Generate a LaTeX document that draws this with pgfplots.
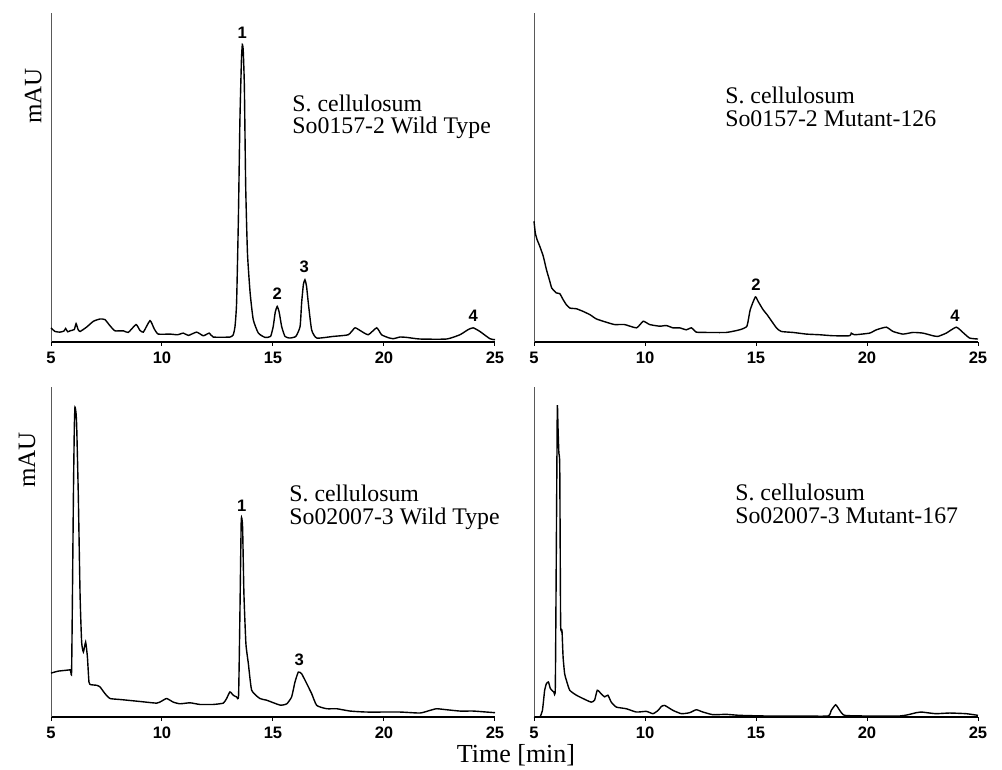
\documentclass[border=0pt]{standalone}
\usepackage{fontspec}
\setmainfont{Liberation Serif}
\setsansfont{Liberation Sans}
\usepackage{pgfplots}
\usepackage{pgfplotstable}
\pgfplotsset{compat=1.18}

% retention time [min] vs. signal (percent of the axis height)
\pgfplotstableread{
t v
5.00 4.3
5.18 3.2
5.40 3.0
5.58 3.3
5.66 4.1
5.75 3.1
5.86 3.4
6.05 3.8
6.13 5.6
6.22 3.8
6.31 3.2
6.60 4.5
6.91 6.3
7.21 7.0
7.43 6.8
7.65 5.0
7.88 3.4
8.26 3.4
8.48 2.9
8.83 5.3
9.00 3.6
9.16 3.0
9.46 6.5
9.65 4.0
9.83 2.4
10.36 2.4
10.70 2.2
10.96 2.7
11.19 2.0
11.56 3.0
11.86 1.9
12.13 2.7
12.31 1.5
13.06 1.5
13.21 2.2
13.29 4.8
13.36 11.9
13.44 37.2
13.51 67.5
13.58 86.0
13.62 90.4
13.66 88.5
13.71 77.7
13.77 47.3
13.85 27.0
13.97 14.9
14.11 6.8
14.34 2.7
14.64 1.4
14.89 1.7
15.01 4.7
15.10 9.0
15.19 10.8
15.28 9.0
15.39 4.7
15.54 1.7
15.75 1.2
16.03 1.7
16.22 4.7
16.29 11.9
16.37 17.5
16.44 18.9
16.51 17.0
16.59 11.9
16.74 3.7
16.97 1.2
17.72 1.7
18.39 2.2
18.69 4.3
18.92 3.5
19.29 2.2
19.67 4.3
19.89 2.2
20.20 1.3
20.42 1.0
20.72 1.5
21.02 1.4
21.62 0.9
22.82 0.9
23.42 2.2
23.80 3.8
24.02 4.3
24.32 3.2
24.77 1.0
25.00 0.7
}\wildA

\pgfplotstableread{
t v
5.00 36.7
5.06 33.1
5.14 31.1
5.26 29.1
5.42 26.0
5.56 22.0
5.71 18.5
5.80 16.4
6.01 14.9
6.16 14.7
6.31 12.9
6.46 11.3
6.62 10.3
6.91 10.1
7.21 9.3
7.52 8.3
7.81 7.0
8.26 6.0
8.63 5.3
9.08 5.3
9.62 4.3
9.92 6.3
10.21 5.3
10.66 4.8
10.96 5.0
11.26 4.3
11.56 4.3
11.86 3.7
12.09 4.3
12.31 3.0
12.76 2.9
13.66 2.9
14.26 3.7
14.59 4.8
14.74 9.8
14.97 13.7
15.09 12.4
15.32 9.8
15.50 8.3
15.92 4.3
16.14 3.2
16.67 2.9
17.27 2.4
17.87 2.2
18.47 1.9
19.22 1.9
19.29 2.7
19.44 2.2
20.12 2.7
20.42 3.7
20.87 4.5
21.17 3.2
21.62 2.4
22.07 2.9
22.52 2.7
22.97 1.9
23.20 1.7
23.57 2.7
24.02 4.5
24.32 2.9
24.62 1.2
25.00 0.9
}\mutA

\pgfplotstableread{
t v
5.00 13.3
5.33 13.9
5.86 14.3
5.93 14.7
6.01 67.2
6.05 87.5
6.08 93.9
6.13 91.9
6.16 87.5
6.23 67.2
6.31 36.9
6.38 22.7
6.46 19.7
6.56 22.7
6.64 18.2
6.71 10.6
6.79 9.8
7.06 9.6
7.21 9.1
7.43 7.1
7.66 5.6
8.11 5.3
9.01 4.7
9.76 4.2
9.98 4.8
10.21 5.6
10.51 4.5
10.81 4.0
11.26 4.3
11.71 3.8
12.31 3.8
12.76 4.2
12.91 5.6
13.06 7.6
13.21 6.6
13.36 6.1
13.45 6.6
13.51 31.3
13.57 59.6
13.63 57.6
13.69 37.4
13.78 22.2
13.89 16.2
14.04 8.1
14.41 5.6
14.71 5.1
15.32 3.6
15.62 4.0
15.84 6.1
15.99 10.6
16.14 13.6
16.29 13.1
16.52 10.1
16.74 7.1
16.97 3.5
17.42 2.5
17.87 2.5
18.47 1.8
19.22 1.5
20.72 1.5
21.62 1.2
22.07 2.0
22.37 2.5
22.82 2.2
23.42 1.8
24.02 1.8
24.62 1.5
25.00 1.3
}\wildB

\pgfplotstableread{
t v
5.00 0.0
5.26 0.0
5.38 2.0
5.48 8.1
5.56 10.1
5.65 10.6
5.74 8.6
5.89 7.6
5.96 9.0
6.01 55.0
6.05 93.9
6.08 88.0
6.12 80.0
6.16 75.8
6.20 28.3
6.26 26.3
6.31 18.2
6.38 13.1
6.46 11.1
6.61 8.1
6.91 6.6
7.36 5.1
7.58 4.5
7.73 5.1
7.85 8.1
8.03 7.0
8.18 6.1
8.33 6.6
8.48 4.5
8.71 3.0
9.16 2.5
9.61 1.5
10.06 1.7
10.36 1.0
10.59 2.0
10.74 3.2
10.89 3.5
11.26 2.0
11.64 1.0
12.01 1.3
12.31 2.2
12.61 1.5
13.06 0.7
13.66 0.8
14.26 0.5
15.47 0.3
16.97 0.3
18.24 0.3
18.39 2.0
18.59 3.7
18.77 2.0
18.99 0.5
19.97 0.3
21.47 0.3
21.85 0.7
22.22 1.3
22.45 1.5
22.82 1.2
23.12 1.0
23.72 1.2
24.47 1.0
25.00 0.5
}\mutB

\pgfplotsset{
  chrom/.style={
    scale only axis, width=222pt, height=164.5pt,
    xmin=5, xmax=25, ymin=0, ymax=100,
    axis lines=left,
    x axis line style={-, black, line width=0.6pt},
    y axis line style={-, black!65, line width=0.5pt},
    xtick={5,10,15,20,25}, xticklabels={5,10,15,20,25},
    ytick=\empty,
    tick align=outside, major tick length=2pt,
    tick style={black, line width=0.5pt},
    xticklabel style={font=\fontsize{8.3}{9}\sffamily\bfseries, inner sep=0pt, yshift=-3pt},
    ylabel style={font=\fontsize{12.5}{13}\selectfont, anchor=center},
    clip=false,
  },
}
\tikzset{
  trace/.style={black, line width=0.7pt, smooth, tension=0.3, mark=none},
  lab/.style={font=\fontsize{11.9}{12}\selectfont, anchor=base west, inner sep=0pt},
  pk/.style={font=\fontsize{8.3}{9}\sffamily\bfseries, anchor=base, inner sep=0pt},
}

\begin{document}
\begin{tikzpicture}
\path[use as bounding box] (0,0) rectangle (501pt,385pt);

\begin{axis}[chrom, at={(25.5pt,214pt)}, anchor=south west,
  ylabel={mAU}, ylabel style={at={(rel axis cs:-0.04,0.748)}}]
\addplot[trace] table[x=t, y=v] {\wildA};
\node[lab] at (axis cs:15.86,70.0) {S. cellulosum};
\node[lab] at (axis cs:15.86,63.3) {So0157-2 Wild Type};
\node[pk] at (axis cs:13.62,92.3) {1};
\node[pk] at (axis cs:15.19,13.0) {2};
\node[pk] at (axis cs:16.41,21.1) {3};
\node[pk] at (axis cs:24.02,6.2) {4};
\end{axis}

\begin{axis}[chrom, at={(267pt,214pt)}, anchor=south west]
\addplot[trace] table[x=t, y=v] {\mutA};
\node[lab] at (axis cs:13.6,72.6) {S. cellulosum};
\node[lab] at (axis cs:13.6,65.5) {So0157-2 Mutant-126};
\node[pk] at (axis cs:15.0,15.6) {2};
\node[pk] at (axis cs:23.96,6.2) {4};
\end{axis}

\begin{axis}[chrom, height=165pt, at={(25.5pt,26.5pt)}, anchor=south west,
  ylabel={mAU}, ylabel style={at={(rel axis cs:-0.054,0.779)}}]
\addplot[trace] table[x=t, y=v] {\wildB};
\node[lab] at (axis cs:15.72,65.2) {S. cellulosum};
\node[lab] at (axis cs:15.72,58.2) {So02007-3 Wild Type};
\node[pk] at (axis cs:13.59,62.4) {1};
\node[pk] at (axis cs:16.18,15.5) {3};
\end{axis}

\begin{axis}[chrom, height=165pt, at={(267pt,26.5pt)}, anchor=south west]
\addplot[trace] table[x=t, y=v] {\mutB};
\node[lab] at (axis cs:14.05,65.5) {S. cellulosum};
\node[lab] at (axis cs:14.05,58.6) {So02007-3 Mutant-167};
\end{axis}

\node[font=\fontsize{13}{14}\selectfont, inner sep=0pt] at (258pt,7.5pt) {Time [min]};
\end{tikzpicture}
\end{document}
